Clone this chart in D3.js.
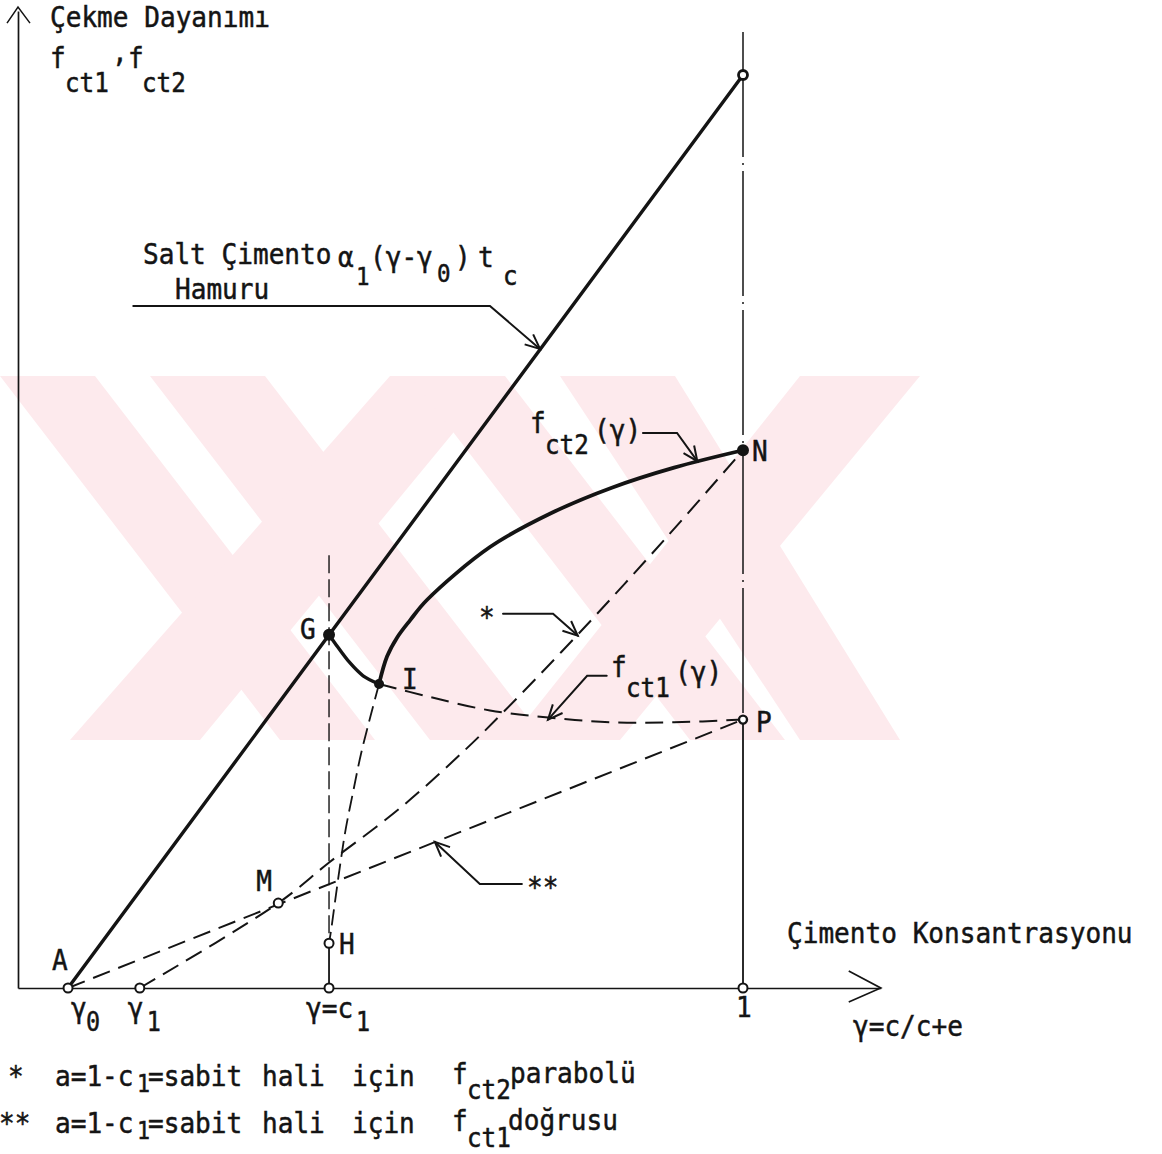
<!DOCTYPE html>
<html>
<head>
<meta charset="utf-8">
<script src="https://cdn.jsdelivr.net/npm/d3@7"></script>
<style>
  body { margin: 0; background: #fff; }
  text { font-family: 'DejaVu Sans Mono', monospace; fill: #141414; stroke: #141414; stroke-width: 0.5; }
</style>
</head>
<body>
<svg id="chart"></svg>
<script>
// γ positions on the concentration axis
var tickNames = ['γ0', 'γ1', 'γ=c1', '1'];
var tickGammas = [0.069, 0.168, 0.429, 1];

// named points (γ, strength)
var pointNames = ['A', 'G', 'I', 'N', 'P', 'M', 'H'];
var pointGammas = [0.069, 0.429, 0.498, 1, 1, 0.359, 0.429];
var pointValues = [0, 0.387, 0.333, 0.589, 0.294, 0.093, 0.049];

// pure cement paste line α1(γ-γ0)tc
var pasteGammas = [0.069, 1];
var pasteValues = [0, 1];

// fct2(γ) from I to N
var fct2Gammas = [0.498, 0.509, 0.523, 0.541, 0.564, 0.651, 0.735, 0.819, 0.905, 1];
var fct2Values = [0.333, 0.363, 0.384, 0.403, 0.425, 0.483, 0.520, 0.548, 0.570, 0.589];

// G -> I arc
var giGammas = [0.429, 0.437, 0.458, 0.476, 0.498];
var giValues = [0.387, 0.378, 0.356, 0.342, 0.333];

// fct1(γ) from I to P
var fct1Gammas = [0.498, 0.567, 0.651, 0.735, 0.819, 0.905, 1];
var fct1Values = [0.333, 0.319, 0.304, 0.296, 0.291, 0.291, 0.294];

// branch from I down to H
var ihGammas = [0.498, 0.486, 0.473, 0.462, 0.452, 0.444, 0.437, 0.432, 0.429];
var ihValues = [0.333, 0.297, 0.256, 0.214, 0.174, 0.133, 0.093, 0.064, 0.049];

// * parabola (a = 1-c1 constant) from γ1 through M to N
var starGammas = [0.168, 0.359, 0.430, 0.527, 0.617, 0.668, 0.772, 0.895, 1];
var starValues = [0, 0.093, 0.138, 0.197, 0.261, 0.301, 0.387, 0.494, 0.589];

// ** line from A to P
var dstarGammas = [0.069, 1];
var dstarValues = [0, 0.294];

// watermark bands [top x0, top x1, bottom x0, bottom x1]
var watermarkBands = [
  [0, 95, 280, 375], [150, 265, 430, 545], [390, 500, 70, 200],
  [410, 505, 690, 785], [560, 675, 800, 900], [800, 920, 510, 620]
];

var width = 1162;
var height = 1154;
var ink = '#141414';
var sx = 0.9; // typewriter glyphs are narrow

var svg = d3.select('#chart').attr('width', width).attr('height', height);

// scales
var x = d3.scaleLinear().domain([0, 1]).range([18, 743]);
var y = d3.scaleLinear().domain([0, 1]).range([988, 75]);

function zip(gs, vs) {
  return gs.map(function(g, i) { return [g, vs[i]]; });
}

// watermark
var wm = svg.append('g').attr('fill', '#fdeaed');
watermarkBands.forEach(function(b) {
  wm.append('polygon')
    .attr('points', [[b[0], 376], [b[1], 376], [b[3], 740], [b[2], 740]].join(' '));
});

// axes
var xAxisScale = d3.scaleLinear().domain([0, 1.19]).range([x(0), x(1.19)]);
var yAxisScale = d3.scaleLinear().domain([0, 1.07]).range([y(0), y(1.07)]);

svg.append('g')
  .attr('transform', 'translate(0,' + y(0) + ')')
  .call(d3.axisBottom(xAxisScale).tickValues([]).tickSizeOuter(0));
svg.append('g')
  .attr('transform', 'translate(' + x(0) + ',0)')
  .call(d3.axisLeft(yAxisScale).tickValues([]).tickSizeOuter(0));
svg.selectAll('.domain').attr('stroke', ink).attr('stroke-width', 1.7);

// axis arrow heads
var ax = xAxisScale(1.19), ay = y(0);
svg.append('polyline')
  .attr('points', [[ax - 32, ay - 17], [ax, ay], [ax - 32, ay + 14]].join(' '))
  .attr('fill', 'none').attr('stroke', ink).attr('stroke-width', 1.7);
var yx = x(0), yy = yAxisScale(1.07);
svg.append('polyline')
  .attr('points', [[yx - 11, yy + 12], [yx, yy - 4], [yx + 12, yy + 12]].join(' '))
  .attr('fill', 'none').attr('stroke', ink).attr('stroke-width', 1.5);

var line = d3.line()
  .x(function(d) { return x(d[0]); })
  .y(function(d) { return y(d[1]); });
var smooth = d3.line()
  .x(function(d) { return x(d[0]); })
  .y(function(d) { return y(d[1]); })
  .curve(d3.curveCatmullRom.alpha(0.5));

function draw(gen, data, w, dash) {
  return svg.append('path')
    .attr('d', gen(data))
    .attr('fill', 'none')
    .attr('stroke', ink)
    .attr('stroke-width', w)
    .attr('stroke-dasharray', dash || null)
    .attr('stroke-linecap', dash ? 'butt' : 'round');
}

// vertical reference lines
var c1 = tickGammas[2];
draw(line, [[c1, 0.474], [c1, pointValues[6]]], 1.4, '18,6');
draw(line, [[c1, pointValues[6]], [c1, 0]], 1.8);
draw(line, [[1, 1.047], [1, pointValues[4]]], 1.5, '125,6,2,6');
draw(line, [[1, pointValues[4]], [1, 0]], 1.8);

// dashed constructions
draw(line, zip(dstarGammas, dstarValues), 2, '18,9');
draw(smooth, zip(starGammas, starValues), 2, '18,9');
draw(smooth, zip(fct1Gammas, fct1Values), 2, '18,9');
draw(smooth, zip(ihGammas, ihValues), 1.8, '16,7');

// solid curves
draw(line, zip(pasteGammas, pasteValues), 3.4);
draw(smooth, zip(fct2Gammas, fct2Values), 3.8);
draw(smooth, zip(giGammas, giValues), 3.4);

// leaders with open arrow heads
function leader(pts) {
  draw(line, pts, 2);
  var a = pts[pts.length - 2], b = pts[pts.length - 1];
  var ang = Math.atan2(y(b[1]) - y(a[1]), x(b[0]) - x(a[0]));
  var tx = x(b[0]), ty = y(b[1]);
  var h = [ang + Math.PI - 0.42, ang + Math.PI + 0.42].map(function(t) {
    return [tx + 16 * Math.cos(t), ty + 16 * Math.sin(t)];
  });
  svg.append('polyline')
    .attr('points', [h[0], [tx, ty], h[1]].join(' '))
    .attr('fill', 'none').attr('stroke', ink).attr('stroke-width', 2);
}
leader([[0.159, 0.747], [0.651, 0.747], [0.720, 0.700]]);
leader([[0.862, 0.608], [0.909, 0.608], [0.937, 0.577]]);
leader([[0.812, 0.342], [0.785, 0.342], [0.731, 0.294]]);
leader([[0.669, 0.410], [0.738, 0.410], [0.772, 0.386]]);
leader([[0.695, 0.114], [0.637, 0.114], [0.575, 0.160]]);

// markers
function marker(g, v, r, filled, w) {
  svg.append('circle')
    .attr('cx', x(g)).attr('cy', y(v)).attr('r', r)
    .attr('fill', filled ? ink : '#fff')
    .attr('stroke', ink).attr('stroke-width', w || 2);
}
tickGammas.forEach(function(g) { marker(g, 0, 4.5, false); });
marker(1, 1, 4.5, false, 2.8);
marker(pointGammas[1], pointValues[1], 5, true);
marker(pointGammas[2], pointValues[2], 4, true);
marker(pointGammas[3], pointValues[3], 5, true);
marker(pointGammas[4], pointValues[4], 4, false, 2.4);
marker(pointGammas[5], pointValues[5], 4.5, false);
marker(pointGammas[6], pointValues[6], 4.5, false);

// text helper: parts = [text, x, baseline, size]; glyphs squeezed horizontally
function label(parts) {
  var t = svg.append('text').attr('transform', 'scale(' + sx + ',1)');
  parts.forEach(function(p) {
    t.append('tspan')
      .attr('x', p[1] / sx).attr('y', p[2])
      .attr('font-size', p[3] || 29)
      .text(p[0]);
  });
  return t;
}

label([['Çekme Dayanımı', 50, 27]]);
label([['f', 50, 68], ['ct1', 65, 92, 27]]);
label([[',', 112, 62]]);
label([['f', 128, 68], ['ct2', 142, 92, 27]]);
label([['Salt Çimento', 143, 264]]);
label([['Hamuru', 175, 299]]);
label([['α', 338, 267], ['1', 356, 285, 25], ['(γ-γ', 370, 267], ['0', 437, 282, 25],
       [')', 455, 267], ['t', 478, 267], ['c', 503, 285, 27]]);
label([['f', 530, 433], ['ct2', 545, 454, 27], ['(γ)', 594, 440]]);
label([['f', 611, 677], ['ct1', 626, 697, 27], ['(γ)', 675, 682]]);
label([['*', 479, 627]]);
label([['**', 527, 897]]);

// point labels placed next to their points
var labelOffsets = [[-16, -18], [-29, 4], [23, 5], [9, 11], [13, 12], [-22, -12], [10, 11]];
pointNames.forEach(function(n, i) {
  label([[n, x(pointGammas[i]) + labelOffsets[i][0], y(pointValues[i]) + labelOffsets[i][1]]]);
});

// tick labels
label([['γ', x(tickGammas[0]) + 3, 1018], ['0', x(tickGammas[0]) + 18, 1031, 26]]);
label([['γ', x(tickGammas[1]) - 12, 1018], ['1', x(tickGammas[1]) + 7, 1031, 26]]);
label([['γ=c', x(tickGammas[2]) - 23, 1018], ['1', x(tickGammas[2]) + 27, 1031, 26]]);
label([['1', x(tickGammas[3]) - 7, 1017]]);

label([['Çimento Konsantrasyonu', 787, 943]]);
label([['γ=c/c+e', 853, 1036]]);

// notes
label([['*', 8, 1086], ['a=1-c', 55, 1086], ['1', 137, 1092, 24], ['=sabit', 148, 1086],
       ['hali', 262, 1086], ['için', 352, 1086], ['f', 452, 1084], ['ct2', 467, 1099, 27],
       ['parabolü', 510, 1083]]);
label([['**', -1, 1133], ['a=1-c', 55, 1133], ['1', 137, 1139, 24], ['=sabit', 148, 1133],
       ['hali', 262, 1133], ['için', 352, 1133], ['f', 452, 1131], ['ct1', 467, 1147, 27],
       ['doğrusu', 508, 1130]]);
</script>
</body>
</html>
